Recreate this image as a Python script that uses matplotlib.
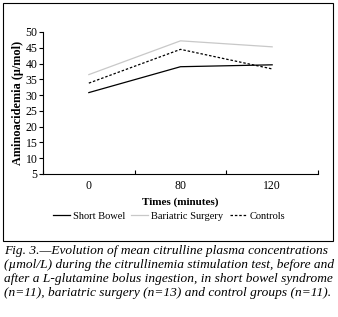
import matplotlib.pyplot as plt
from matplotlib.patches import Rectangle

plt.rcParams['font.family'] = ['Liberation Serif', 'DejaVu Serif']

times = ['0', '80', '120']
short_bowel = [30.8, 39.0, 39.6]
bariatric = [36.5, 47.2, 45.3]
controls = [33.8, 44.5, 38.3]
yticks = [5, 10, 15, 20, 25, 30, 35, 40, 45, 50]

caption = [
    "Fig. 3.\u2014Evolution of mean citrulline plasma concentrations",
    "(\u00b5mol/L) during the citrullinemia stimulation test, before and",
    "after a L-glutamine bolus ingestion, in short bowel syndrome",
    "(n=11), bariatric surgery (n=13) and control groups (n=11).",
]

W, H = 338, 317
fig = plt.figure(figsize=(W / 100, H / 100), dpi=100)

# outer frame around the chart
fig.patches.append(Rectangle((3 / W, 1 - 241 / H), 330 / W, 238 / H,
                             transform=fig.transFigure, fill=False,
                             edgecolor='black', linewidth=0.8))

ax = fig.add_axes([43 / W, 1 - 174 / H, 275 / W, 142 / H])
x = [0, 1, 2]
ax.plot(x, short_bowel, color='black', lw=0.9, label='Short Bowel')
ax.plot(x, bariatric, color='#c8c8c8', lw=0.9, label='Bariatric Surgery')
ax.plot(x, controls, color='black', lw=0.9, ls=(0, (2, 1.5)), label='Controls')

ax.set_xlim(-0.5, 2.5)
ax.set_ylim(5, 50)
ax.set_yticks(yticks)
ax.set_xticks([-0.5, 0.5, 1.5, 2.5])
ax.set_xticklabels([])
ax.set_xticks(x, minor=True)
ax.set_xticklabels(times, minor=True, fontsize=8.5)
ax.tick_params(axis='x', which='major', direction='in', length=3, width=0.8)
ax.tick_params(axis='x', which='minor', length=0, pad=4)
ax.tick_params(axis='y', direction='out', length=3, width=0.8, labelsize=8.5, pad=1)
for s in ['top', 'right']:
    ax.spines[s].set_visible(False)
for s in ['left', 'bottom']:
    ax.spines[s].set_linewidth(0.8)

ax.set_ylabel('Aminoacidemia (\u00b5/mol)', fontweight='bold', fontsize=8.8, labelpad=1)
ax.set_xlabel('Times (minutes)', fontweight='bold', fontsize=8, labelpad=4)

fig.legend(loc='center', bbox_to_anchor=(169 / W, 1 - 216 / H), ncol=3, frameon=False,
           fontsize=7.5, handlelength=1.6, handletextpad=0.3, columnspacing=0.6)

for i, line in enumerate(caption):
    fig.text(4 / W, 1 - (251 + i * 14) / H, line, fontsize=9.6, style='italic',
             va='center', ha='left')

fig.savefig('out.png', dpi=100)
